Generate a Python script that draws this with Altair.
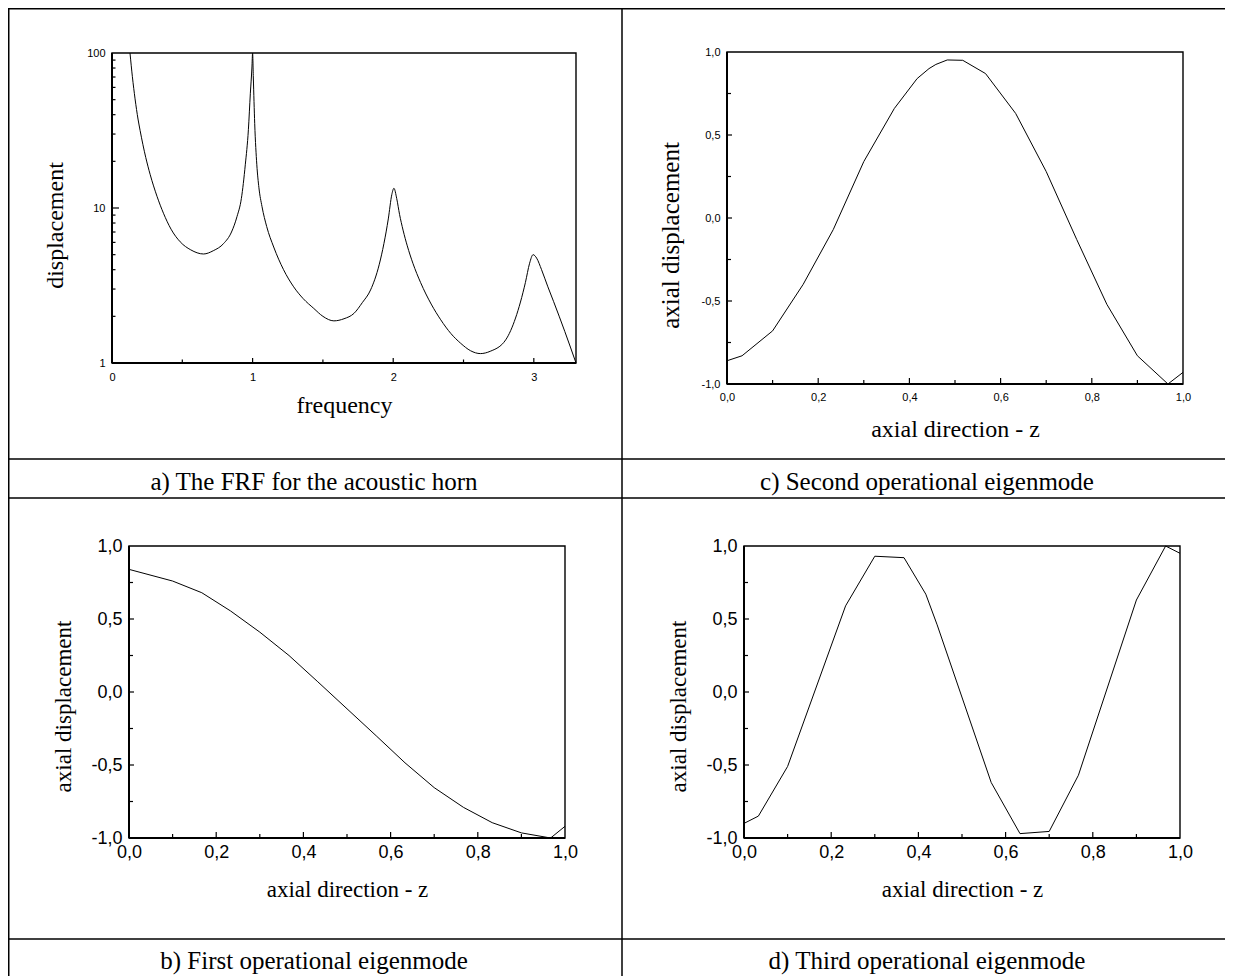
import altair as alt
import pandas as pd

# ---------------- data ----------------
# a) FRF of the acoustic horn (log displacement vs frequency)
frf_freq = [0.128, 0.145, 0.164, 0.185, 0.2, 0.24, 0.271, 0.32, 0.366, 0.42, 0.485, 0.56,
            0.651, 0.72, 0.794, 0.85, 0.889, 0.92, 0.948, 0.97, 0.984, 0.995, 1.0, 1.005,
            1.015, 1.03, 1.045, 1.067, 1.1, 1.15, 1.22, 1.292, 1.36, 1.435, 1.5, 1.578, 1.65,
            1.721, 1.78, 1.839, 1.9, 1.934, 1.965, 1.99, 2.005, 2.025, 2.045, 2.07, 2.1,
            2.14, 2.195, 2.27, 2.338, 2.41, 2.48, 2.55, 2.62, 2.69, 2.8, 2.87, 2.94, 2.97,
            2.995, 3.02, 3.055, 3.1, 3.14, 3.22, 3.3]
frf_disp = [100, 70.3, 50.6, 37.5, 31.6, 21.2, 16.5, 11.9, 9.25, 7.3, 6.05, 5.37,
            5.05, 5.3, 5.9, 7.0, 8.8, 11.5, 19.0, 32, 55, 80, 100, 70,
            35, 19.0, 13.5, 10.2, 7.6, 5.6, 4.0, 3.1, 2.6, 2.25, 2.0, 1.87, 1.93,
            2.09, 2.45, 2.96, 4.3, 5.9, 8.5, 12.2, 13.4, 11.5, 9.1, 7.2, 5.7,
            4.4, 3.3, 2.4, 1.9, 1.55, 1.34, 1.2, 1.15, 1.19, 1.41, 1.95, 3.3, 4.4,
            5.0, 4.75, 4.0, 3.1, 2.5, 1.6, 1.0]

# b) first operational eigenmode
mode1_z = [0, 0.1, 0.167, 0.233, 0.3, 0.367, 0.433, 0.5, 0.567, 0.633, 0.7, 0.767,
           0.833, 0.9, 0.967, 1.0]
mode1_u = [0.84, 0.76, 0.68, 0.555, 0.41, 0.25, 0.07, -0.115, -0.30, -0.485, -0.655, -0.79,
           -0.895, -0.965, -1.0, -0.92]

# c) second operational eigenmode
mode2_z = [0, 0.033, 0.1, 0.167, 0.233, 0.3, 0.367, 0.417, 0.443, 0.458, 0.483, 0.517,
           0.567, 0.633, 0.7, 0.767, 0.833, 0.9, 0.967, 1.0]
mode2_u = [-0.86, -0.83, -0.68, -0.40, -0.07, 0.34, 0.66, 0.84, 0.90, 0.925, 0.952, 0.95,
           0.87, 0.63, 0.28, -0.13, -0.52, -0.83, -1.0, -0.93]

# d) third operational eigenmode
mode3_z = [0, 0.033, 0.1, 0.233, 0.3, 0.367, 0.417, 0.443, 0.567, 0.633, 0.7, 0.767,
           0.9, 0.967, 1.0]
mode3_u = [-0.90, -0.85, -0.51, 0.59, 0.93, 0.92, 0.67, 0.46, -0.62, -0.97, -0.955, -0.57,
           0.63, 1.0, 0.95]

# tick values
frf_x_labels = [0, 1, 2, 3]
frf_x_minor = [0.5, 1.5, 2.5]
frf_y_labels = [1, 10, 100]
frf_y_minor = [2, 3, 4, 5, 6, 7, 8, 9, 20, 30, 40, 50, 60, 70, 80, 90]
z_labels = [0.0, 0.2, 0.4, 0.6, 0.8, 1.0]
z_inner = [0.2, 0.4, 0.6, 0.8]
z_minor = [0.1, 0.3, 0.5, 0.7, 0.9]
u_labels = [-1.0, -0.5, 0.0, 0.5, 1.0]
u_inner = [-0.5, 0.0, 0.5]
u_minor = [-0.75, -0.25, 0.25, 0.75]

captions = ["a) The FRF for the acoustic horn", "c) Second operational eigenmode",
            "b) First operational eigenmode", "d) Third operational eigenmode"]

# ---------------- layout / style ----------------
W, H = 1217, 968
SERIF = "Liberation Serif"
SANS = "Liberation Sans"
ONE = pd.DataFrame({"k": [0]})
COMMA = "(datum.value < 0 ? '-' : '') + replace(format(abs(datum.value), '.1f'), '.', ',')"
INT = "format(datum.value, 'd')"


def panel(p):
    xL, xR, yT, yB = p["box"]
    xs = alt.Scale(domain=p["xdom"], range=[xL, xR], nice=False, zero=False)
    if p["ylog"]:
        ys = alt.Scale(type="log", domain=p["ydom"], range=[yB, yT], nice=False)
    else:
        ys = alt.Scale(domain=p["ydom"], range=[yB, yT], nice=False, zero=False)
    common = dict(labelFont=SANS, labelFontSize=p["lsize"], labelColor="black",
                  labelFlush=False, labelOverlap=False, labelBound=False,
                  ticks=False, tickSize=0, domain=False, grid=False,
                  titleFont=SERIF, titleFontWeight="normal",
                  titleColor="black", titleBaseline="middle", titleAlign="center")
    xaxis = alt.Axis(orient="bottom", offset=yB - H, values=p["xlab"], labelExpr=p["xexpr"],
                     labelPadding=p["xpad"], title=p["xtitle"], titleFontSize=p["tsize"][0],
                     titleX=p["xtc"][0], titleY=p["xtc"][1] - yB, **common)
    yaxis = alt.Axis(orient="left", offset=-xL, values=p["ylab"], labelExpr=p["yexpr"],
                     labelPadding=p["ypad"], title=p["ytitle"], titleAngle=270,
                     titleFontSize=p["tsize"][1],
                     titleX=p["ytc"][0] - xL, titleY=p["ytc"][1], **common)
    df = pd.DataFrame({"x": p["xv"], "y": p["yv"]})
    out = [alt.Chart(df).mark_line(color="black", strokeWidth=1, interpolate=p["interp"]).encode(
        x=alt.X("x:Q", scale=xs, axis=xaxis),
        y=alt.Y("y:Q", scale=ys, axis=yaxis),
    )]
    for vals, ln in p["xticks"]:
        out.append(
            alt.Chart(pd.DataFrame({"x": vals})).mark_rule(color="black", strokeWidth=1.2).encode(
                x=alt.X("x:Q", scale=xs, axis=None), y=alt.value(yB), y2=alt.value(yB - ln)))
    for vals, ln in p["yticks"]:
        out.append(
            alt.Chart(pd.DataFrame({"y": vals})).mark_rule(color="black", strokeWidth=1.2).encode(
                y=alt.Y("y:Q", scale=ys, axis=None), x=alt.value(xL), x2=alt.value(xL + ln)))
    out.append(
        alt.Chart(ONE).mark_rect(fillOpacity=0, stroke="black", strokeWidth=1.4).encode(
            x=alt.value(xL), x2=alt.value(xR), y=alt.value(yT), y2=alt.value(yB)))
    # slightly heavier left and bottom axis lines
    out.append(
        alt.Chart(ONE).mark_rule(color="black", strokeWidth=2).encode(
            x=alt.value(xL), y=alt.value(yT), y2=alt.value(yB)))
    out.append(
        alt.Chart(ONE).mark_rule(color="black", strokeWidth=2).encode(
            x=alt.value(xL), x2=alt.value(xR), y=alt.value(yB)))
    return out


chart_a = panel(dict(
    box=(104, 568, 45, 355), xdom=[0, 3.3], ydom=[1, 100], ylog=True,
    xv=frf_freq, yv=frf_disp, interp="monotone",
    xlab=frf_x_labels, ylab=frf_y_labels, xexpr=INT, yexpr=INT,
    xticks=[(frf_x_labels[1:], 5), (frf_x_minor, 3.5)],
    yticks=[([10], 7), (frf_y_minor, 3.5)],
    xtitle="frequency", ytitle="displacement", xtc=(336, 397), ytc=(47, 217),
    lsize=11, tsize=(24, 24), xpad=8, ypad=7))

chart_c = panel(dict(
    box=(719, 1175, 44, 376), xdom=[0, 1], ydom=[-1, 1], ylog=False,
    xv=mode2_z, yv=mode2_u, interp="linear",
    xlab=z_labels, ylab=u_labels, xexpr=COMMA, yexpr=COMMA,
    xticks=[(z_inner, 6), (z_minor, 4)], yticks=[(u_inner, 5), (u_minor, 4)],
    xtitle="axial direction - z", ytitle="axial displacement", xtc=(947, 421), ytc=(662, 227),
    lsize=11, tsize=(24, 25), xpad=7, ypad=7))

chart_b = panel(dict(
    box=(121, 557, 538, 830), xdom=[0, 1], ydom=[-1, 1], ylog=False,
    xv=mode1_z, yv=mode1_u, interp="linear",
    xlab=z_labels, ylab=u_labels, xexpr=COMMA, yexpr=COMMA,
    xticks=[(z_inner, 6), (z_minor, 4)], yticks=[(u_inner, 5), (u_minor, 4)],
    xtitle="axial direction - z", ytitle="axial displacement", xtc=(339, 881), ytc=(55, 698),
    lsize=18, tsize=(23, 23), xpad=5, ypad=7))

chart_d = panel(dict(
    box=(736, 1172, 538, 830), xdom=[0, 1], ydom=[-1, 1], ylog=False,
    xv=mode3_z, yv=mode3_u, interp="linear",
    xlab=z_labels, ylab=u_labels, xexpr=COMMA, yexpr=COMMA,
    xticks=[(z_inner, 6), (z_minor, 4)], yticks=[(u_inner, 5), (u_minor, 4)],
    xtitle="axial direction - z", ytitle="axial displacement", xtc=(954, 881), ytc=(670, 698),
    lsize=18, tsize=(23, 23), xpad=5, ypad=7))


# ---------------- table frame and captions ----------------
def hline(y):
    return alt.Chart(ONE).mark_rule(color="black", strokeWidth=1.5).encode(
        x=alt.value(0), x2=alt.value(W), y=alt.value(y))


def vline(x):
    return alt.Chart(ONE).mark_rule(color="black", strokeWidth=1.5).encode(
        x=alt.value(x), y=alt.value(0), y2=alt.value(H))


def caption(text, cx, cy):
    return alt.Chart(pd.DataFrame({"t": [text]})).mark_text(
        font=SERIF, fontSize=25, align="center", baseline="alphabetic", color="black"
    ).encode(text="t:N", x=alt.value(cx), y=alt.value(cy))


deco = [
    hline(0.75), hline(451), hline(490), hline(931),
    vline(0.75), vline(614),
    caption(captions[0], 306, 482), caption(captions[1], 919, 482),
    caption(captions[2], 306, 961), caption(captions[3], 919, 961),
]

chart = alt.layer(*(chart_a + chart_c + chart_b + chart_d + deco)).resolve_scale(
    x="independent", y="independent"
).resolve_axis(
    x="independent", y="independent"
).properties(
    width=W, height=H, autosize=alt.AutoSizeParams(type="none"), padding=0
).configure_view(strokeOpacity=0)

chart.save("out.html", embed_options={"renderer": "svg", "actions": False})
